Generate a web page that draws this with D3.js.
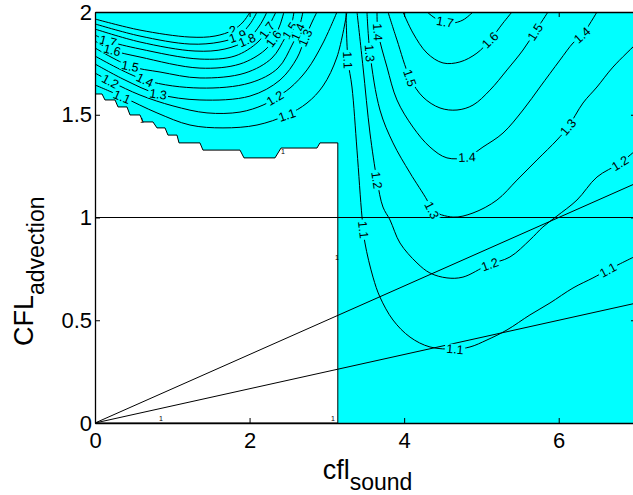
<!DOCTYPE html>
<html><head><meta charset="utf-8">
<script src="https://cdn.jsdelivr.net/npm/d3@7"></script>
<style>body{margin:0;background:#fff}svg{display:block}text{font-family:"Liberation Sans",Arial,Helvetica,sans-serif}</style>
</head><body>
<svg id="chart" width="633" height="495"></svg>
<script>
// ---- data ----
const xTicks = [0, 2, 4, 6];
const yTicks = [0, 0.5, 1, 1.5, 2];
const xDomain = [0, 7];
const yDomain = [0, 2];

// stable region (amplification <= 1), bounded by the level-1 contour
const stableRegion = [[0,1.601],[0.091,1.601],[0.129,1.572],[0.259,1.572],[0.298,1.538],[0.414,1.538],
  [0.453,1.499],[0.582,1.499],[0.621,1.465],[0.750,1.465],[0.802,1.436],[0.906,1.436],[0.944,1.401],
  [1.061,1.401],[1.087,1.363],[1.358,1.363],[1.397,1.328],[1.876,1.328],[1.928,1.290],[2.329,1.290],
  [2.407,1.338],[2.872,1.338],[2.911,1.363],[3.1416,1.363],[3.1416,0],[0,0]];

// upper-left family of contours
const ul20 = [[0,1.966],[0.582,1.912],[1.229,1.878],[1.553,1.883],[1.785,1.912],[1.915,1.951],[2.006,2.0]];
const ul19 = [[0,1.942],[0.582,1.883],[1.229,1.844],[1.617,1.854],[1.850,1.883],[2.006,1.942],[2.096,2.0]];
const ul18 = [[0,1.917],[0.582,1.854],[1.294,1.810],[1.682,1.820],[1.967,1.864],[2.135,1.937],[2.225,2.0]];
const ul17 = [[0,1.888],[0.168,1.859],[0.582,1.820],[1.358,1.771],[1.811,1.786],[2.109,1.854],[2.225,1.912],[2.290,1.961],[2.342,2.0]];
const ul16 = [[0,1.859],[0.220,1.815],[0.582,1.781],[1.358,1.727],[1.876,1.747],[2.200,1.815],[2.316,1.873],[2.394,1.937],[2.445,2.0]];
const ul15 = [[0,1.825],[0.453,1.737],[0.841,1.708],[1.358,1.679],[1.941,1.703],[2.290,1.776],[2.458,1.873],[2.523,1.912],[2.575,2.0]];
const ul14 = [[0,1.786],[0.647,1.669],[1.358,1.630],[2.006,1.655],[2.368,1.727],[2.549,1.839],[2.626,1.903],[2.691,2.0]];
const ul13 = [[0,1.747],[0.388,1.669],[0.815,1.601],[1.358,1.572],[2.006,1.591],[2.394,1.669],[2.614,1.776],[2.717,1.873],[2.821,1.961],[2.872,2.0]];
const ul12 = [[0,1.703],[0.220,1.659],[0.582,1.596],[1.009,1.543],[1.449,1.509],[1.876,1.513],[2.174,1.547],[2.329,1.581],[2.523,1.630],[2.743,1.718],[2.950,1.849],[3.131,2.0]];
const ul11 = [[0,1.645],[0.362,1.586],[0.802,1.509],[1.229,1.450],[1.656,1.436],[2.096,1.450],[2.484,1.499],[2.743,1.557],[2.950,1.640],[3.131,1.781],[3.260,2.0]];

// right family of contours
const r11 = [[3.248,2.0],[3.273,1.766],[3.325,1.635],[3.390,1.328],[3.455,1.002],[3.493,0.876],[3.597,0.710],[3.687,0.613],[3.856,0.501],[4.076,0.418],[4.334,0.370],[4.658,0.360],[4.852,0.370],[5.072,0.404],[5.331,0.453],[5.628,0.526],[5.887,0.584],[6.185,0.657],[6.443,0.706],[6.637,0.745],[7.0,0.813]];
const r12 = [[3.390,2.0],[3.468,1.732],[3.558,1.411],[3.649,1.182],[3.726,1.051],[3.817,0.988],[3.946,0.876],[4.166,0.779],[4.334,0.730],[4.554,0.706],[4.761,0.710],[5.085,0.769],[5.369,0.808],[5.628,0.891],[5.796,0.954],[5.977,1.007],[6.236,1.085],[6.495,1.197],[6.793,1.265],[7.0,1.328]];
const r13 = [[3.519,2.0],[3.558,1.800],[3.687,1.523],[3.856,1.363],[4.076,1.217],[4.296,1.085],[4.360,1.036],[4.632,1.002],[4.891,1.022],[5.201,1.085],[5.460,1.182],[5.719,1.280],[5.977,1.377],[6.120,1.440],[6.314,1.557],[6.495,1.635],[6.702,1.732],[7.0,1.844]];
const r14 = [[3.649,2.0],[3.662,1.903],[3.778,1.732],[3.907,1.572],[4.114,1.440],[4.334,1.343],[4.554,1.290],[4.813,1.294],[5.020,1.343],[5.279,1.411],[5.538,1.523],[5.758,1.635],[6.016,1.766],[6.185,1.849],[6.301,1.888],[6.495,2.0]];
const r15 = [[3.791,2.0],[3.907,1.864],[4.076,1.679],[4.244,1.586],[4.464,1.533],[4.684,1.523],[4.891,1.547],[5.111,1.620],[5.331,1.718],[5.538,1.815],[5.693,1.903],[5.861,2.0]];
const r16 = [[3.985,2.0],[4.114,1.898],[4.296,1.800],[4.503,1.752],[4.722,1.757],[4.942,1.800],[5.111,1.864],[5.279,1.946],[5.395,2.0]];
const r17 = [[4.296,2.0],[4.464,1.956],[4.619,1.946],[4.761,1.961],[4.891,2.0]];

const contourLines = {ul20, ul19, ul18, ul17, ul16, ul15, ul14, ul13, ul12, ul11, r11, r12, r13, r14, r15, r16, r17};

// contour labels: [text, contour, approximate position]
const contourLabels = [
  ["1.7","ul17",[0.168,1.854]],["1.6","ul16",[0.220,1.810]],["1.5","ul15",[0.453,1.732]],
  ["1.4","ul14",[0.647,1.669]],["1.3","ul13",[0.815,1.596]],["1.2","ul12",[0.194,1.659]],
  ["1.1","ul11",[0.349,1.586]],["2","ul20",[1.785,1.912]],["1.9","ul19",[1.850,1.878]],
  ["1.8","ul18",[1.967,1.864]],["1.7","ul17",[2.225,1.912]],["1.6","ul16",[2.303,1.873]],
  ["1.5","ul15",[2.510,1.912]],["1.4","ul14",[2.626,1.903]],["1.3","ul13",[2.730,1.873]],
  ["1.2","ul12",[2.329,1.581]],["1.1","ul11",[2.484,1.499]],
  ["1.1","r11",[3.273,1.766]],["1.1","r11",[3.429,0.939]],["1.1","r11",[4.658,0.360]],["1.1","r11",[6.637,0.745]],
  ["1.2","r12",[3.649,1.182]],["1.2","r12",[5.111,0.769]],["1.2","r12",[6.793,1.265]],
  ["1.3","r13",[3.558,1.800]],["1.3","r13",[4.360,1.036]],["1.3","r13",[6.120,1.440]],
  ["1.4","r14",[3.662,1.903]],["1.4","r14",[4.813,1.294]],["1.4","r14",[6.301,1.888]],
  ["1.5","r15",[4.076,1.679]],["1.5","r15",[5.693,1.903]],
  ["1.6","r16",[5.111,1.864]],["1.7","r17",[4.528,1.951]]
];
// tiny labels of the level-1 contour
const levelOneLabels = [[0.608,1.474],[2.432,1.319],[3.131,0.803],[3.079,0.02],[0.854,0.02]];

// reference lines
const unitLine = [[0,1],[7,1]];
const ratioLines = [[[0,0],[7,7/6]], [[0,0],[7,7/12]]];

const xLabelMain = "cfl", xLabelSub = "sound";
const yLabelMain = "CFL", yLabelSub = "advection";

// ---- drawing ----
const svg = d3.select("#chart");
const x = d3.scaleLinear().domain(xDomain).range([95, 636]);
const y = d3.scaleLinear().domain(yDomain).range([423, 12]);
const line = d3.line().x(d => x(d[0])).y(d => y(d[1]));
const smooth = d3.line().x(d => x(d[0])).y(d => y(d[1])).curve(d3.curveCatmullRom.alpha(0.5));
const CYAN = "#00ffff";

svg.append("defs").append("clipPath").attr("id","clip").append("rect")
  .attr("x", x(0)).attr("y", y(2)).attr("width", x(7)-x(0)).attr("height", y(0)-y(2));
const g = svg.append("g").attr("clip-path","url(#clip)");

g.append("rect").attr("x", x(0)).attr("y", y(2)).attr("width", x(7)-x(0)).attr("height", y(0)-y(2)).attr("fill", CYAN);
g.append("path").datum(stableRegion).attr("d", line).attr("fill","#fff").attr("stroke","#000").attr("stroke-width",1);

Object.values(contourLines).forEach(pts => {
  g.append("path").datum(pts).attr("d", smooth).attr("fill","none").attr("stroke","#000").attr("stroke-width",1);
});

g.append("path").datum(unitLine).attr("d", line).attr("stroke","#000").attr("stroke-width",1).attr("fill","none");
ratioLines.forEach(l => g.append("path").datum(l).attr("d", line).attr("stroke","#000").attr("stroke-width",1).attr("fill","none"));

function snap(pts, pos) {
  const P = pts.map(p => [x(p[0]), y(p[1])]);
  const q = [x(pos[0]), y(pos[1])];
  let best = {d: Infinity};
  for (let i = 0; i < P.length - 1; i++) {
    const a = P[i], b = P[i+1];
    const dx = b[0]-a[0], dy = b[1]-a[1];
    let t = ((q[0]-a[0])*dx + (q[1]-a[1])*dy) / (dx*dx + dy*dy);
    t = Math.max(0, Math.min(1, t));
    const p = [a[0]+t*dx, a[1]+t*dy];
    const d = Math.hypot(p[0]-q[0], p[1]-q[1]);
    if (d < best.d) best = {d, p, ang: Math.atan2(dy, dx) * 180 / Math.PI};
  }
  let deg = best.ang;
  if (deg > 90) deg -= 180;
  if (deg < -90) deg += 180;
  return {p: best.p, deg};
}

const lg = g.append("g");
contourLabels.forEach(([txt, key, pos]) => {
  const s = snap(contourLines[key], pos);
  const grp = lg.append("g").attr("transform", `translate(${s.p[0]},${s.p[1]}) rotate(${s.deg})`);
  const r = grp.append("rect").attr("fill", CYAN);
  const t = grp.append("text").attr("text-anchor","middle").attr("dy","0.36em").attr("font-size",12.5).attr("fill","#000").text(txt);
  const w = t.node().getComputedTextLength() + 3;
  r.attr("x", -w/2).attr("y", -5).attr("width", w).attr("height", 10);
});
levelOneLabels.forEach(pos => {
  g.append("text").attr("x", x(pos[0])).attr("y", y(pos[1])).attr("dy","0.35em")
    .attr("text-anchor","middle").attr("font-size",7).attr("fill","#000").text("1");
});

// axes
const fs = 22;
const ax = svg.append("g").attr("transform", `translate(0,${y(0)})`)
  .call(d3.axisBottom(x).tickValues(xTicks).tickSizeInner(-5).tickSizeOuter(0).tickPadding(8).tickFormat(d3.format("d")));
const ay = svg.append("g").attr("transform", `translate(${x(0)},0)`)
  .call(d3.axisLeft(y).tickValues(yTicks).tickSizeInner(-5).tickSizeOuter(0).tickPadding(3).tickFormat(d => d3.format("")(d)));
const at = svg.append("g").attr("transform", `translate(0,${y(2)})`)
  .call(d3.axisTop(x).tickValues(xTicks).tickSizeInner(-5).tickSizeOuter(0).tickFormat(""));
const ar = svg.append("g").attr("transform", `translate(${x(7)},0)`)
  .call(d3.axisRight(y).tickValues(yTicks).tickSizeInner(-5).tickSizeOuter(0).tickFormat(""));
[ax, ay, at, ar].forEach(a => {
  a.selectAll("path.domain").attr("stroke","#000").attr("stroke-width",1.3);
  a.selectAll("line").attr("stroke","#000").attr("stroke-width",1);
  a.selectAll("text").attr("font-size", fs).attr("fill","#000").style("font-family",'"Liberation Sans",Arial,sans-serif');
});
ax.selectAll("text").attr("dy","0.76em");

// axis titles
const xl = svg.append("text").attr("x", (x(0)+x(7))/2 + 2).attr("y", 479).attr("text-anchor","middle").attr("font-size",27);
xl.append("tspan").text(xLabelMain);
xl.append("tspan").attr("font-size",23).attr("dy",11).text(xLabelSub);

const yl = svg.append("text").attr("transform", `translate(33,346) rotate(-90)`).attr("text-anchor","start").attr("font-size",27);
yl.append("tspan").text(yLabelMain);
yl.append("tspan").attr("font-size",23).attr("dy",11).text(yLabelSub);
</script>
</body></html>
